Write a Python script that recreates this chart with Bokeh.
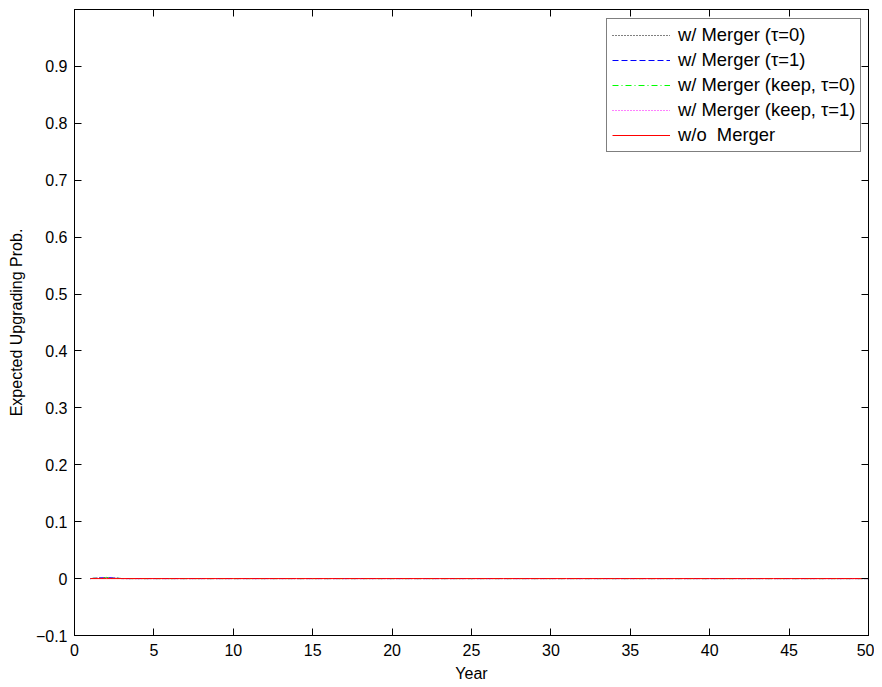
from bokeh.plotting import figure
from bokeh.models import Range1d, LinearAxis, Legend, LegendItem, FixedTicker
from bokeh.embed import file_html
from bokeh.resources import INLINE

years = list(range(1, 51))
merger_t0 = [0.0, 0.002] + [0.0] * 48
merger_t1 = [0.0, 0.002] + [0.0] * 48
merger_keep_t0 = [0.0, 0.002] + [0.0] * 48
merger_keep_t1 = [0.0, 0.002] + [0.0] * 48
no_merger = [0.0] * 50

labels = ["w/ Merger (\u03c4=0)", "w/ Merger (\u03c4=1)", "w/ Merger (keep, \u03c4=0)",
          "w/ Merger (keep, \u03c4=1)", "w/o  Merger"]
xticks = [0, 5, 10, 15, 20, 25, 30, 35, 40, 45, 50]
yticks = [-0.1, 0.0, 0.1, 0.2, 0.3, 0.4, 0.5, 0.6, 0.7, 0.8, 0.9]

FONT = "Liberation Sans"
FS = "16px"

p = figure(frame_width=794, frame_height=626, output_backend="svg", toolbar_location=None,
           x_range=Range1d(0, 50), y_range=Range1d(-0.1, 1.0),
           min_border_left=74, min_border_right=6, min_border_top=9, min_border_bottom=45)
p.grid.visible = False
p.outline_line_color = "black"
p.outline_line_width = 1
p.background_fill_color = "white"
p.border_fill_color = "white"

def style_axis(ax):
    ax.major_tick_in = 7
    ax.major_tick_out = 0
    ax.minor_tick_line_color = None
    ax.axis_line_color = "black"
    ax.major_tick_line_color = "black"
    ax.major_label_text_font = FONT
    ax.major_label_text_font_size = FS
    ax.major_label_text_color = "black"
    ax.axis_label_text_font = FONT
    ax.axis_label_text_font_size = FS
    ax.axis_label_text_font_style = "normal"
    ax.axis_label_text_color = "black"

p.xaxis.ticker = FixedTicker(ticks=xticks)
p.yaxis.ticker = FixedTicker(ticks=yticks)
p.xaxis.axis_label = "Year"
p.yaxis.axis_label = "Expected Upgrading Prob."
p.xaxis.axis_label_standoff = 6
p.yaxis.axis_label_standoff = 8
p.xaxis.major_label_standoff = 8
p.yaxis.major_label_standoff = 7
style_axis(p.xaxis[0])
style_axis(p.yaxis[0])

top = LinearAxis(ticker=FixedTicker(ticks=xticks), major_label_standoff=0,
                 major_label_overrides={t: "" for t in xticks})
right = LinearAxis(ticker=FixedTicker(ticks=yticks), major_label_standoff=0,
                   major_label_overrides={t: "" for t in yticks})
style_axis(top)
style_axis(right)
p.add_layout(top, "above")
p.add_layout(right, "right")

r1 = p.line(years, merger_t0, line_color="#000000", line_dash="1 2", line_width=1)
r2 = p.line(years, merger_t1, line_color="#0000ff", line_dash="6 3", line_width=1)
r3 = p.line(years, merger_keep_t0, line_color="#00ff00", line_dash="6 3 1 3", line_width=1)
r4 = p.line(years, merger_keep_t1, line_color="#ff00ff", line_dash="1 2", line_width=1)
r5 = p.line(years, no_merger, line_color="#ff0000", line_width=1)

legend = Legend(items=[LegendItem(label=l, renderers=[r]) for l, r in zip(labels, [r1, r2, r3, r4, r5])],
                location=(532, 483))
legend.label_text_font = FONT
legend.label_text_font_size = "18.4px"
legend.label_text_color = "black"
legend.glyph_width = 58
legend.glyph_height = 20
legend.label_height = 20
legend.spacing = 3
legend.padding = 5
legend.margin = 0
legend.label_standoff = 8
legend.border_line_color = "black"
legend.border_line_width = 1
legend.background_fill_alpha = 1.0
p.add_layout(legend, "center")

open("out.html", "w").write(file_html(p, INLINE))
